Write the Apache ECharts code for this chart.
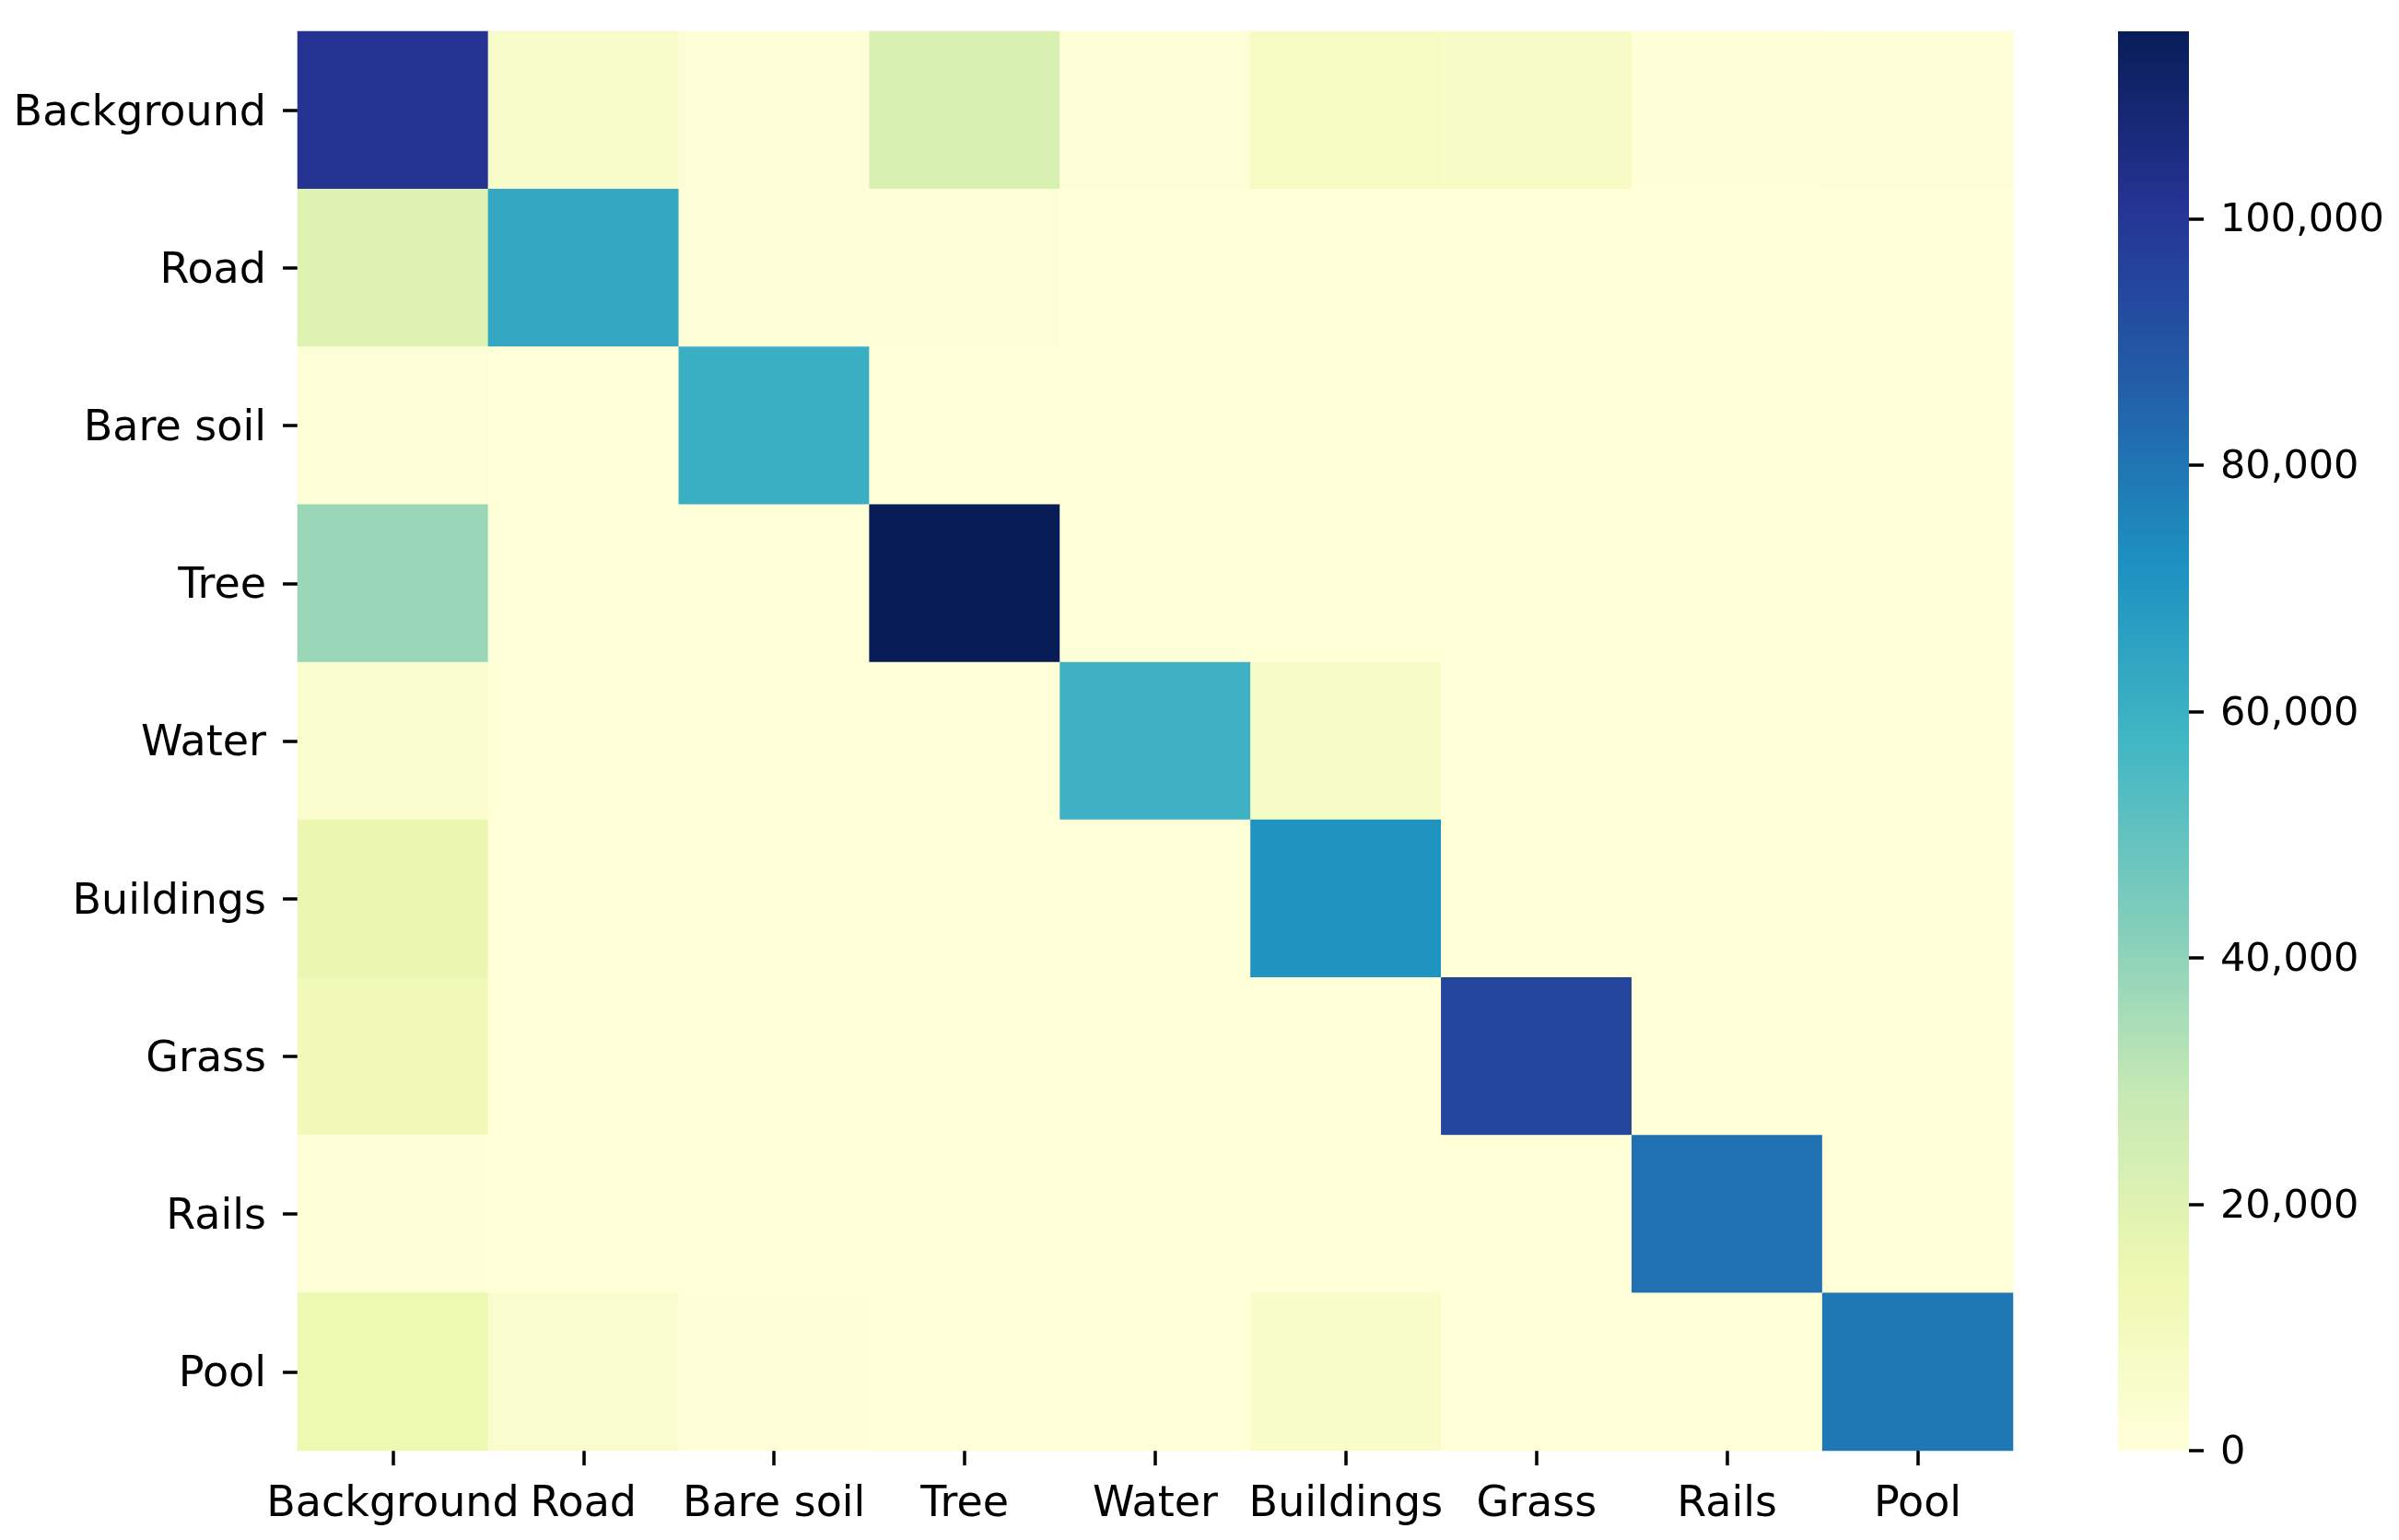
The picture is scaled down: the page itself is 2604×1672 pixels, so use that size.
<!DOCTYPE html>
<html>
<head>
<meta charset="utf-8">
<script src="https://cdn.jsdelivr.net/npm/echarts@6/dist/echarts.min.js"></script>
<style>
  html, body { margin: 0; padding: 0; background: #fff; }
  #chart { width: 2604px; height: 1672px; }
</style>
</head>
<body>
<div id="chart"></div>
<script>
// Class labels (rows = true, columns = predicted)
const categories = ['Background', 'Road', 'Bare soil', 'Tree', 'Water', 'Buildings', 'Grass', 'Rails', 'Pool'];

// Confusion-matrix rows
const rowBackground = [101000, 5500, 1500, 22000, 1200, 7500, 6500, 800, 1500];
const rowRoad       = [20000, 63000, 500, 1500, 300, 300, 200, 200, 200];
const rowBareSoil   = [1500, 400, 60500, 300, 200, 200, 200, 200, 200];
const rowTree       = [38000, 300, 200, 115200, 200, 300, 300, 200, 200];
const rowWater      = [4500, 300, 200, 200, 59000, 7000, 200, 200, 200];
const rowBuildings  = [15000, 300, 200, 200, 300, 71000, 200, 200, 200];
const rowGrass      = [12000, 300, 200, 200, 200, 300, 95000, 200, 200];
const rowRails      = [1000, 300, 200, 200, 200, 200, 200, 81000, 200];
const rowPool       = [14500, 4500, 500, 300, 300, 6000, 300, 300, 79000];

// Colorbar tick values
const colorbarTicks = [0, 20000, 40000, 60000, 80000, 100000];

// YlGnBu colormap stops
const ylGnBu = ['#ffffd9', '#edf8b1', '#c7e9b4', '#7fcdbb', '#41b6c4', '#1d91c0', '#225ea8', '#253494', '#081d58'];

const rows = [rowBackground, rowRoad, rowBareSoil, rowTree, rowWater, rowBuildings, rowGrass, rowRails, rowPool];
const heatData = [];
rows.forEach((r, yi) => r.forEach((v, xi) => heatData.push([xi, yi, v])));
const vmax = Math.max(...heatData.map(d => d[2]));

const FONT = 'DejaVu Sans';
const fmt = v => '{t|' + Number(v).toLocaleString('en-US') + '}';

const chart = echarts.init(document.getElementById('chart'));
chart.setOption({
  animation: false,
  backgroundColor: '#ffffff',
  textStyle: { fontFamily: FONT },
  grid: [
    { left: 323, top: 34, width: 1862, height: 1541 },
    { left: 2299, top: 34, width: 77, height: 1541 }
  ],
  xAxis: [
    {
      type: 'category', gridIndex: 0, data: categories,
      axisLine: { show: false },
      axisTick: { show: true, alignWithLabel: true, length: 16, lineStyle: { color: '#000', width: 3.5 } },
      axisLabel: { fontFamily: FONT, fontSize: 46, color: '#000', margin: 36, interval: 0 },
      splitLine: { show: false }
    },
    {
      type: 'category', gridIndex: 1, data: ['cb'], show: false
    }
  ],
  yAxis: [
    {
      type: 'category', gridIndex: 0, data: categories, inverse: true,
      axisLine: { show: false },
      axisTick: { show: true, alignWithLabel: true, length: 16, lineStyle: { color: '#000', width: 3.5 } },
      axisLabel: {
        fontFamily: FONT, fontSize: 46, color: '#000', margin: 34, interval: 0,
        formatter: v => '{t|' + v + '}',
        rich: { t: { fontFamily: FONT, fontSize: 46, color: '#000', padding: [8, 0, 0, 0] } }
      },
      splitLine: { show: false }
    },
    {
      type: 'value', gridIndex: 1, position: 'right', min: 0, max: vmax,
      axisLine: { show: false },
      axisTick: { show: true, length: 16, customValues: colorbarTicks, lineStyle: { color: '#000', width: 3.5 } },
      axisLabel: {
        fontFamily: FONT, fontSize: 43, color: '#000', margin: 34, customValues: colorbarTicks, formatter: fmt,
        rich: { t: { fontFamily: FONT, fontSize: 43, color: '#000', padding: [6, 0, 0, 0] } }
      },
      splitLine: { show: false }
    }
  ],
  visualMap: {
    type: 'continuous', show: false, min: 0, max: vmax, seriesIndex: 0,
    inRange: { color: ylGnBu }
  },
  series: [
    {
      type: 'heatmap', xAxisIndex: 0, yAxisIndex: 0, data: heatData,
      itemStyle: { borderWidth: 0 },
      emphasis: { disabled: true }
    },
    {
      type: 'bar', xAxisIndex: 1, yAxisIndex: 1, data: [vmax], barWidth: '100%',
      itemStyle: {
        color: {
          type: 'linear', x: 0, y: 1, x2: 0, y2: 0,
          colorStops: ylGnBu.map((c, i) => ({ offset: i / (ylGnBu.length - 1), color: c }))
        }
      },
      emphasis: { disabled: true }
    }
  ]
});
</script>
</body>
</html>
